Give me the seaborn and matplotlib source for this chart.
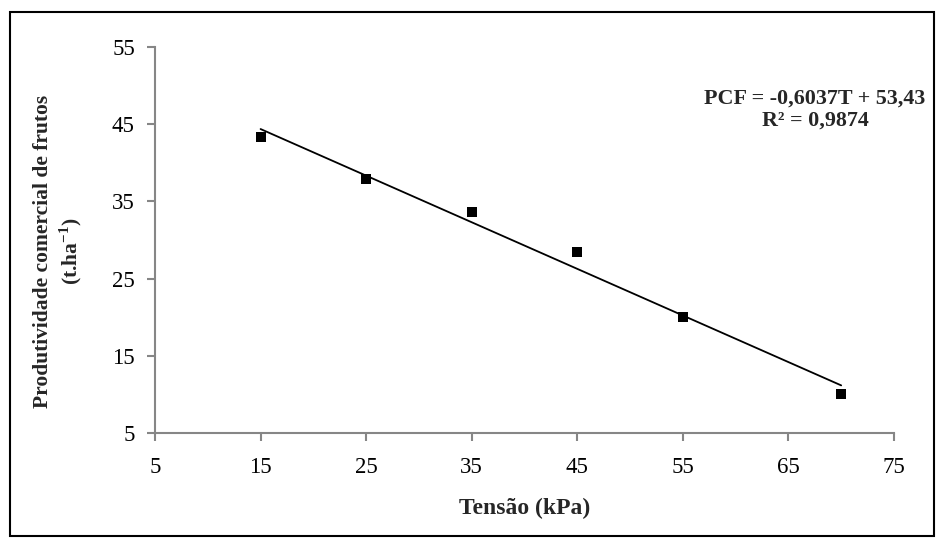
import matplotlib
matplotlib.use("Agg")
import matplotlib.pyplot as plt
import seaborn as sns
import numpy as np
import pandas as pd
from matplotlib.patches import Rectangle

tensao = [15, 25, 35, 45, 55, 70]
pcf = [43.3, 37.9, 33.6, 28.4, 20.0, 10.05]
slope = -0.6037
intercept = 53.43
xticks = [5, 15, 25, 35, 45, 55, 65, 75]
yticks = [5, 15, 25, 35, 45, 55]

sns.set_theme(style="white")
plt.rcParams['font.family'] = ['Liberation Serif', 'DejaVu Serif']
plt.rcParams['mathtext.fontset'] = 'custom'
plt.rcParams['mathtext.rm'] = 'Liberation Serif'
plt.rcParams['mathtext.bf'] = 'Liberation Serif:bold'

fig = plt.figure(figsize=(9.44, 5.44), dpi=100)
ax = fig.add_axes([0.1642, 0.204, 0.947 - 0.1642, 0.9136 - 0.204])

df = pd.DataFrame({"T": tensao, "PCF": pcf})
sns.scatterplot(data=df, x="T", y="PCF", ax=ax, marker="s", s=42, color="black",
                edgecolor="black", linewidth=0, zorder=3)
tl = np.array([tensao[0], tensao[-1]])
sns.lineplot(x=tl, y=slope * tl + intercept, ax=ax, color="black", linewidth=1.3)

ax.set_xlim(5, 75)
ax.set_ylim(5, 55)
ax.set_xticks(xticks)
ax.set_yticks(yticks)
ax.set_xticklabels([str(v) for v in xticks])
ax.set_yticklabels([str(v) for v in yticks])
for s in ["top", "right"]:
    ax.spines[s].set_visible(False)
for s in ["left", "bottom"]:
    ax.spines[s].set_color("#868686")
    ax.spines[s].set_linewidth(1.5)
ax.tick_params(axis="both", direction="out", length=5.5, width=1.5, color="#868686",
               labelcolor="black", labelsize=16.5, bottom=True, left=True)
ax.tick_params(axis="x", pad=12)
ax.tick_params(axis="y", pad=9)

ax.set_xlabel("Tensão (kPa)", fontsize=17, fontweight="bold", labelpad=14)
ax.set_ylabel("Produtividade comercial de frutos\n(t.ha$^{\\mathbf{-1}}$)", fontsize=15.5,
              fontweight="bold", linespacing=1.2)
ax.yaxis.set_label_coords(-0.096, 0.47)

ax.text(1.043, 0.837, "PCF = -0,6037T + 53,43\nR² = 0,9874", transform=ax.transAxes,
        ha="right", va="center", fontsize=15.8, fontweight="bold", multialignment="center",
        linespacing=1.15)

fig.patches.append(Rectangle((10 / 944, 8 / 544), 924 / 944, 524 / 544, transform=fig.transFigure,
                             fill=False, edgecolor="black", linewidth=1.5))

fig.savefig("out.png", dpi=100)
